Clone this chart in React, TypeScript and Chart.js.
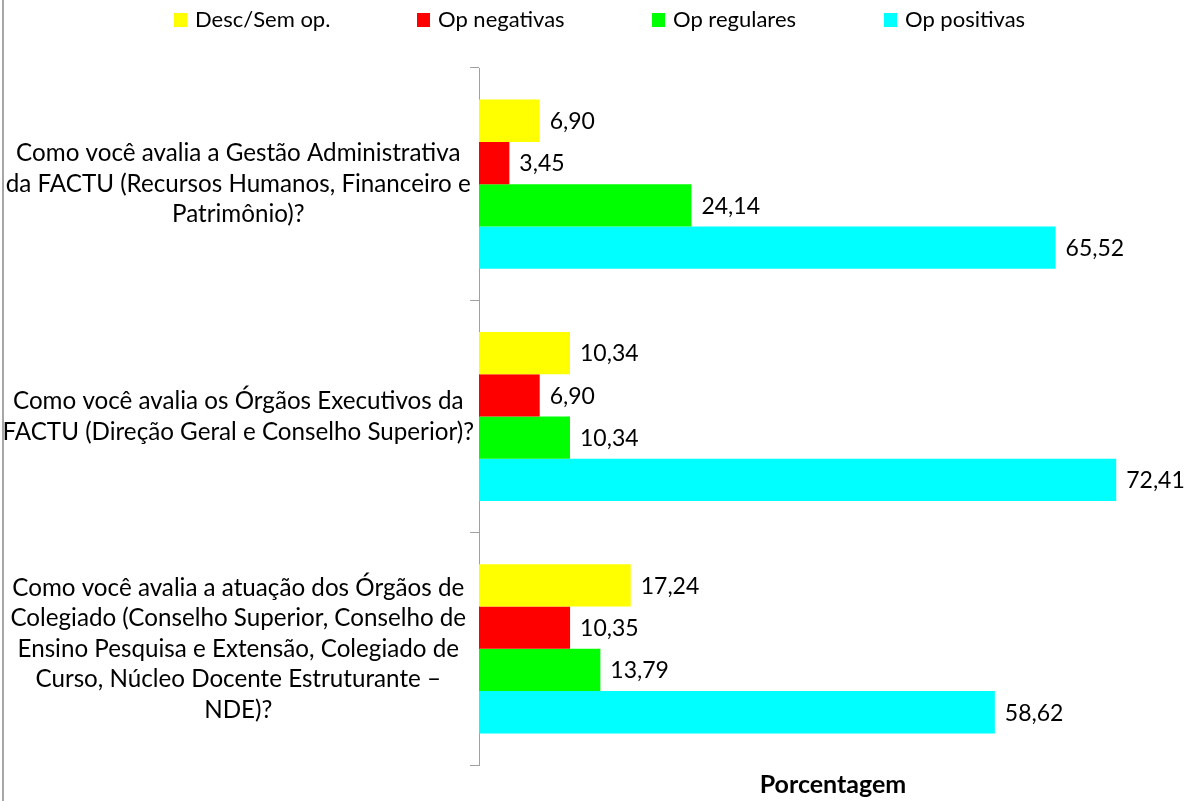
import React, { useEffect, useRef } from "react";
import { Chart, registerables } from "chart.js";

Chart.register(...registerables);

const categories: string[][] = [
  ["Como você avalia a Gestão Administrativa", "da FACTU (Recursos Humanos, Financeiro e", "Patrimônio)?"],
  ["Como você avalia os Órgãos Executivos da", "FACTU (Direção Geral e Conselho Superior)?"],
  [
    "Como você avalia a atuação dos Órgãos de",
    "Colegiado (Conselho Superior, Conselho de",
    "Ensino Pesquisa e Extensão, Colegiado de",
    "Curso, Núcleo Docente Estruturante –",
    "NDE)?",
  ],
];

const seriesNames = ["Desc/Sem op.", "Op negativas", "Op regulares", "Op positivas"];
const descSemOp = [6.9, 10.34, 17.24];
const opNegativas = [3.45, 6.9, 10.35];
const opRegulares = [24.14, 10.34, 13.79];
const opPositivas = [65.52, 72.41, 58.62];
const seriesColors = ["#FFFF00", "#FF0000", "#00FF00", "#00FFFF"];
const axisTitle = "Porcentagem";
const xMax = 80;

const FONT = "Lato, 'Open Sans', sans-serif";

export default function App() {
  const ref = useRef<HTMLCanvasElement | null>(null);

  useEffect(() => {
    if (!ref.current) return;
    const values = [descSemOp, opNegativas, opRegulares, opPositivas];

    const customPlugin = {
      id: "custom",
      beforeDraw(chart: any) {
        const ctx = chart.ctx;
        ctx.save();
        ctx.fillStyle = "#ffffff";
        ctx.fillRect(0, 0, chart.width, chart.height);
        ctx.strokeStyle = "#a6a6a6";
        ctx.lineWidth = 2;
        ctx.beginPath();
        ctx.moveTo(3, 0);
        ctx.lineTo(3, chart.height);
        ctx.stroke();
        ctx.restore();
      },
      afterDraw(chart: any) {
        const ctx = chart.ctx;
        ctx.save();
        // legend
        const legendX = [174, 417, 652, 884];
        ctx.font = `22px ${FONT}`;
        ctx.textBaseline = "middle";
        ctx.textAlign = "left";
        chart.data.datasets.forEach((ds: any, i: number) => {
          ctx.fillStyle = ds.backgroundColor;
          ctx.fillRect(legendX[i], 13, 13, 14);
          ctx.fillStyle = "#000000";
          ctx.fillText(ds.label, legendX[i] + 21, 20);
        });
        // data labels
        ctx.font = `23px ${FONT}`;
        chart.data.datasets.forEach((ds: any, i: number) => {
          const meta = chart.getDatasetMeta(i);
          meta.data.forEach((el: any, j: number) => {
            const v = ds.data[j] as number;
            ctx.fillText(v.toFixed(2).replace(".", ","), el.x + 10, el.y + 1);
          });
        });
        // axis title
        const ca = chart.chartArea;
        ctx.font = `bold 25px ${FONT}`;
        ctx.textAlign = "center";
        ctx.fillText(axisTitle, (ca.left + ca.right) / 2 + 2, 785);
        ctx.restore();
      },
    };

    const chart = new Chart(ref.current, {
      type: "bar",
      data: {
        labels: categories as any,
        datasets: seriesNames.map((name, i) => ({
          label: name,
          data: values[i],
          backgroundColor: seriesColors[i],
          borderWidth: 0,
          barPercentage: 1,
          categoryPercentage: 0.728,
        })),
      },
      options: {
        indexAxis: "y",
        animation: false,
        responsive: false,
        events: [],
        layout: { padding: { top: 68, bottom: 36, left: 0, right: 12 } },
        plugins: {
          legend: { display: false },
          tooltip: { enabled: false },
        },
        scales: {
          x: {
            display: false,
            min: 0,
            max: xMax,
          },
          y: {
            afterFit(scale: any) {
              scale.width = 479;
              scale.paddingTop = 0;
              scale.paddingBottom = 0;
            },
            border: { display: true, color: "#a0a0a0", width: 1 },
            grid: {
              drawOnChartArea: false,
              drawTicks: true,
              tickLength: 9,
              color: "#a0a0a0",
              offset: true,
            },
            ticks: {
              crossAlign: "center",
              padding: -4,
              color: "#000000",
              font: { family: FONT, size: 24.2, lineHeight: 1.26 },
            },
          },
        },
      },
      plugins: [customPlugin],
    });
    return () => chart.destroy();
  }, []);

  return (
    <div style={{ position: "fixed", left: 0, top: 0, width: 1195, height: 801, background: "#fff" }}>
      <canvas ref={ref} width={1195} height={801} style={{ width: 1195, height: 801, display: "block" }} />
    </div>
  );
}
